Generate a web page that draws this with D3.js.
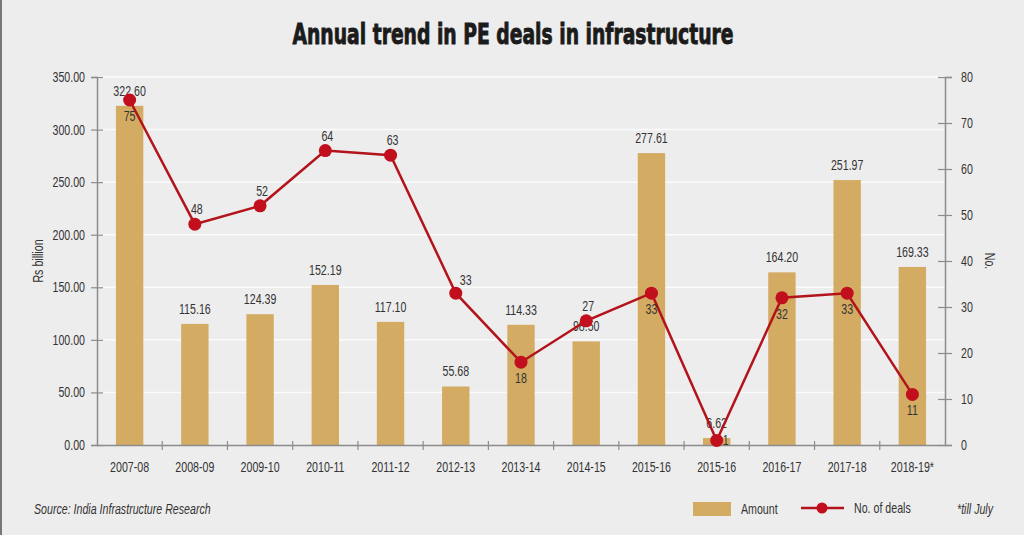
<!DOCTYPE html>
<html lang="en">
<head>
    <meta charset="UTF-8">
    <title>Annual trend in PE deals in infrastructure</title>
    <script src="https://cdn.jsdelivr.net/npm/d3@7"></script>
    <style>
        body { margin: 0; background: #ededed; }
        #mainsvg { display: block; }
        text { font-family: "Liberation Sans", Arial, sans-serif; fill: #333; }
    </style>
</head>
<body>
    <svg width="1024" height="535" id="mainsvg"></svg>
    <script>
        // data
        const years = ["2007-08","2008-09","2009-10","2010-11","2011-12","2012-13","2013-14","2014-15","2015-16","2015-16 ","2016-17","2017-18","2018-19*"]
        const amount = [322.60, 115.16, 124.39, 152.19, 117.10, 55.68, 114.33, 98.50, 277.61, 6.62, 164.20, 251.97, 169.33]
        const deals = [75, 48, 52, 64, 63, 33, 18, 27, 33, 1, 32, 33, 11]
        const amountTicks = [0, 50, 100, 150, 200, 250, 300, 350]
        const dealTicks = [0, 10, 20, 30, 40, 50, 60, 70, 80]
        // where each deal label sits relative to its point
        const dealLabelPos = ["below","above","above","above","above","aboveRight","below","above","below","right","below","below","below"]

        const barColor = "#d4ab63"
        const lineColor = "#b3141c"
        const axisColor = "#8c8c8c"
        const squeeze = 0.76   // no Arial Narrow installed, so squeeze Liberation Sans
        const fs = '14px'

        const svg = d3.select('#mainsvg')
        const margin = {top: 77, right: 79, bottom: 90, left: 97}
        const width = +svg.attr('width')
        const height = +svg.attr('height')

        // move x/y into a transform so the horizontal squeeze doesn't shift the text
        function narrow(sel, extra) {
            sel.each(function() {
                const t = d3.select(this)
                const tx = +t.attr('x') || 0
                const ty = +t.attr('y') || 0
                t.attr('x', null).attr('y', null)
                    .attr('transform', `translate(${tx},${ty}) ${extra || ''} scale(${squeeze},1)`)
            })
            return sel
        }

        svg.append('rect').attr('width', width).attr('height', height).attr('fill', '#ededed')
        svg.append('line').attr('x1', 1).attr('x2', 1).attr('y1', 0).attr('y2', height)
            .attr('stroke', '#777').attr('stroke-width', 2)

        const x = d3.scaleBand().domain(years).range([margin.left, width - margin.right])
        const yL = d3.scaleLinear().domain([0, 350]).range([height - margin.bottom, margin.top])
        const yR = d3.scaleLinear().domain([0, 80]).range([height - margin.bottom, margin.top])
        const cx = d => x(d) + x.bandwidth() / 2
        const barW = x.bandwidth() * 0.42

        // title
        svg.append('text').attr('x', 513).attr('y', 44).attr('text-anchor', 'middle')
            .attr('textLength', 441).attr('lengthAdjust', 'spacingAndGlyphs')
            .style('font-family', '"DejaVu Sans Condensed", sans-serif')
            .style('font-weight', 'bold').style('font-size', '29px').style('fill', '#1b1b1b')
            .style('stroke', '#1b1b1b').style('stroke-width', 0.9)
            .text('Annual trend in PE deals in infrastructure')

        // grid lines
        svg.append('g').selectAll('line').data(amountTicks.slice(1)).join('line')
            .attr('x1', margin.left).attr('x2', width - margin.right)
            .attr('y1', d => yL(d)).attr('y2', d => yL(d))
            .attr('stroke', '#fbfbfb').attr('stroke-width', 1.5)

        // bars
        svg.append('g').selectAll('rect').data(amount).join('rect')
            .attr('x', (d, i) => cx(years[i]) - barW / 2)
            .attr('width', barW)
            .attr('y', d => yL(d))
            .attr('height', d => yL(0) - yL(d))
            .attr('fill', barColor)

        svg.append('g').selectAll('text').data(amount).join('text')
            .attr('x', (d, i) => cx(years[i]))
            .attr('y', d => yL(d) - 10)
            .attr('text-anchor', 'middle')
            .style('font-size', fs)
            .text(d => d.toFixed(2))
            .call(narrow)

        // left axis
        const axL = svg.append('g').attr('transform', `translate(${margin.left},0)`)
            .call(d3.axisLeft(yL).tickValues(amountTicks).tickFormat(d => d.toFixed(2)).tickSizeOuter(0).tickSize(6).tickPadding(6))
        axL.select('.domain').attr('stroke', axisColor).attr('stroke-width', 1.5)
        axL.selectAll('.tick line').attr('x1', -6).attr('x2', 6).attr('stroke', axisColor).attr('stroke-width', 1.2)
        axL.selectAll('.tick text').style('font-size', fs).attr('font-family', null).call(narrow)

        // right axis
        const axR = svg.append('g').attr('transform', `translate(${width - margin.right},0)`)
            .call(d3.axisRight(yR).tickValues(dealTicks).tickSizeOuter(0).tickSize(7).tickPadding(9))
        axR.select('.domain').attr('stroke', axisColor).attr('stroke-width', 1.5)
        axR.selectAll('.tick line').attr('x1', -7).attr('x2', 7).attr('stroke', axisColor).attr('stroke-width', 1.2)
        axR.selectAll('.tick text').style('font-size', fs).attr('font-family', null).call(narrow)

        // bottom axis
        const axB = svg.append('g').attr('transform', `translate(0,${height - margin.bottom})`)
            .call(d3.axisBottom(x).tickSize(0).tickPadding(17).tickFormat(d => d.trim()))
        axB.select('.domain').attr('stroke', axisColor).attr('stroke-width', 1.5)
        axB.selectAll('.tick text').style('font-size', fs).attr('font-family', null).call(narrow)
        axB.append('g').selectAll('line').data(years.slice(1)).join('line')
            .attr('x1', d => x(d)).attr('x2', d => x(d))
            .attr('y1', -4).attr('y2', 5)
            .attr('stroke', axisColor).attr('stroke-width', 1.2)

        // axis titles
        svg.append('text').attr('x', 43).attr('y', (yL(0) + yL(350)) / 2)
            .attr('text-anchor', 'middle').style('font-size', fs).text('Rs billion')
            .call(narrow, 'rotate(-90)')
        svg.append('text').attr('x', 985).attr('y', (yR(0) + yR(80)) / 2)
            .attr('text-anchor', 'middle').style('font-size', fs).text('No.')
            .call(narrow, 'rotate(90)')

        // deals line
        const line = d3.line().x((d, i) => cx(years[i])).y(d => yR(d))
        svg.append('path').datum(deals).attr('d', line)
            .attr('fill', 'none').attr('stroke', lineColor).attr('stroke-width', 2.5)
        svg.append('g').selectAll('circle').data(deals).join('circle')
            .attr('cx', (d, i) => cx(years[i])).attr('cy', d => yR(d)).attr('r', 6.5)
            .attr('fill', '#c20f1d')

        const offsets = {below: [0, 21, 'middle'], above: [2, -10, 'middle'], aboveRight: [10, -8, 'middle'], right: [6, 5, 'start']}
        svg.append('g').selectAll('text').data(deals).join('text')
            .attr('x', (d, i) => cx(years[i]) + offsets[dealLabelPos[i]][0])
            .attr('y', (d, i) => yR(d) + offsets[dealLabelPos[i]][1])
            .attr('text-anchor', (d, i) => offsets[dealLabelPos[i]][2])
            .style('font-size', fs)
            .text(d => d)
            .call(narrow)

        // footer
        svg.append('text').attr('x', 34).attr('y', 514).style('font-size', fs).style('font-style', 'italic')
            .text('Source: India Infrastructure Research').call(narrow)

        const legend = svg.append('g')
        legend.append('rect').attr('x', 693).attr('y', 502).attr('width', 38).attr('height', 14).attr('fill', barColor)
        legend.append('text').attr('x', 741).attr('y', 514).style('font-size', fs).text('Amount').call(narrow)
        legend.append('line').attr('x1', 801).attr('x2', 844).attr('y1', 508).attr('y2', 508)
            .attr('stroke', lineColor).attr('stroke-width', 2.5)
        legend.append('circle').attr('cx', 822).attr('cy', 508).attr('r', 5.5).attr('fill', '#c20f1d')
        legend.append('text').attr('x', 854).attr('y', 513).style('font-size', fs).text('No. of deals').call(narrow)
        legend.append('text').attr('x', 957).attr('y', 514).style('font-size', fs).style('font-style', 'italic')
            .text('*till July').call(narrow)
    </script>
</body>
</html>
